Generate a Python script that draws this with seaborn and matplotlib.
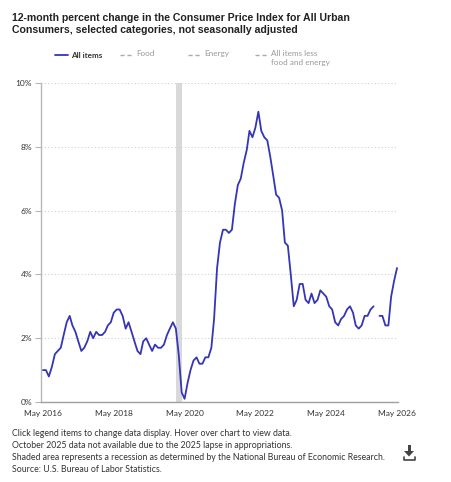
import numpy as np
import pandas as pd
import matplotlib
matplotlib.use("Agg")
import matplotlib.pyplot as plt
import matplotlib.dates as mdates
import seaborn as sns
from matplotlib.lines import Line2D
from matplotlib.patches import Polygon, Rectangle

sns.set_theme(style="white")
plt.rcParams["font.family"] = ["Lato", "DejaVu Sans"]

# ---------------- data ----------------
first_month = "2016-05-01"
last_month = "2026-05-01"
all_items = [
    # 2016 (May-Dec)
    1.0, 1.0, 0.8, 1.1, 1.5, 1.6, 1.7, 2.1,
    # 2017
    2.5, 2.7, 2.4, 2.2, 1.9, 1.6, 1.7, 1.9, 2.2, 2.0, 2.2, 2.1,
    # 2018
    2.1, 2.2, 2.4, 2.5, 2.8, 2.9, 2.9, 2.7, 2.3, 2.5, 2.2, 1.9,
    # 2019
    1.6, 1.5, 1.9, 2.0, 1.8, 1.6, 1.8, 1.7, 1.7, 1.8, 2.1, 2.3,
    # 2020
    2.5, 2.3, 1.5, 0.3, 0.1, 0.6, 1.0, 1.3, 1.4, 1.2, 1.2, 1.4,
    # 2021
    1.4, 1.7, 2.6, 4.2, 5.0, 5.4, 5.4, 5.3, 5.4, 6.2, 6.8, 7.0,
    # 2022
    7.5, 7.9, 8.5, 8.3, 8.6, 9.1, 8.5, 8.3, 8.2, 7.7, 7.1, 6.5,
    # 2023
    6.4, 6.0, 5.0, 4.9, 4.0, 3.0, 3.2, 3.7, 3.7, 3.2, 3.1, 3.4,
    # 2024
    3.1, 3.2, 3.5, 3.4, 3.3, 3.0, 2.9, 2.5, 2.4, 2.6, 2.7, 2.9,
    # 2025 (Oct missing)
    3.0, 2.8, 2.4, 2.3, 2.4, 2.7, 2.7, 2.9, 3.0, np.nan, 2.7, 2.7,
    # 2026 (Jan-May)
    2.4, 2.4, 3.3, 3.8, 4.2,
]
recession_start = "2020-02-01"
recession_end = "2020-04-01"
y_ticks = [0, 2, 4, 6, 8, 10]
x_tick_years = [2016, 2018, 2020, 2022, 2024, 2026]
legend_labels = ["All items", "Food", "Energy", "All items less\nfood and energy"]

title = ("12-month percent change in the Consumer Price Index for All Urban\n"
         "Consumers, selected categories, not seasonally adjusted")
footer = ("Click legend items to change data display. Hover over chart to view data.\n"
          "October 2025 data not available due to the 2025 lapse in appropriations.\n"
          "Shaded area represents a recession as determined by the National Bureau of Economic Research.\n"
          "Source: U.S. Bureau of Labor Statistics.")

months = pd.date_range(first_month, last_month, freq="MS")
df = pd.DataFrame({"date": months, "value": all_items})
df["segment"] = df["value"].isna().cumsum()
df = df.dropna()

# ---------------- figure ----------------
W, H = 451, 482
fig = plt.figure(figsize=(W / 100, H / 100), dpi=100)
fig.patch.set_facecolor("white")


def fx(x):
    return x / W


def fy(y):
    return 1 - y / H


ax = fig.add_axes([fx(41), fy(402), (398 - 41) / W, (402 - 83) / H])
ax.set_facecolor("white")

ax.axvspan(pd.Timestamp(recession_start), pd.Timestamp(recession_end),
           color="#d9d9d9", lw=0, zorder=0)

line_color = "#3535b5"
sns.lineplot(data=df, x="date", y="value", units="segment", estimator=None,
             color=line_color, lw=1.3, ax=ax, legend=False, zorder=3)

ax.set_xlim(pd.Timestamp("2016-04-11"), pd.Timestamp("2026-05-11"))
ax.set_ylim(0, 10)
ax.set_yticks(y_ticks)
ax.set_yticklabels([f"{t}%" for t in y_ticks])
ax.set_xticks([pd.Timestamp(f"{y}-05-01") for y in x_tick_years])
ax.xaxis.set_major_formatter(mdates.DateFormatter("%b %Y"))
ax.set_xlabel("")
ax.set_ylabel("")

ax.yaxis.grid(True, linestyle=(0, (1, 2)), color="#d0d0d0", lw=0.8)
ax.xaxis.grid(False)
for s in ["top", "right"]:
    ax.spines[s].set_visible(False)
ax.spines["left"].set_color("#b8b8b8")
ax.spines["left"].set_linewidth(1.0)
ax.spines["bottom"].set_color("#a0a0a0")
ax.spines["bottom"].set_linewidth(1.0)

ax.tick_params(axis="y", length=4.5, width=0.8, color="#b8b8b8",
               labelsize=6, labelcolor="#333333", pad=2, left=True)
ax.tick_params(axis="x", length=0, labelsize=6, labelcolor="#333333", pad=6)

# ---------------- title ----------------
fig.text(fx(12), fy(13), title, fontsize=7.55, fontweight="bold",
         family=["Liberation Sans", "DejaVu Sans"], color="#222222",
         va="top", ha="left", linespacing=1.25)

# ---------------- legend ----------------
leg_x = [55, 120, 188, 255]
leg_y = 55
for i, lab in enumerate(legend_labels):
    x0 = leg_x[i]
    if i == 0:
        h = Line2D([fx(x0), fx(x0 + 13)], [fy(leg_y), fy(leg_y)],
                   transform=fig.transFigure, color=line_color, lw=1.3)
        fig.text(fx(x0 + 16), fy(leg_y), lab, fontsize=5.9, fontweight="bold",
                 color="#333333", va="center", ha="left")
    else:
        h = Line2D([fx(x0), fx(x0 + 13)], [fy(leg_y), fy(leg_y)],
                   transform=fig.transFigure, color="#aaaaaa", lw=1.0,
                   linestyle=(0, (3, 2)))
        fig.text(fx(x0 + 16), fy(leg_y - 5), lab, fontsize=5.9,
                 color="#999999", va="top", ha="left", linespacing=1.35)
    fig.add_artist(h)

# ---------------- footer ----------------
fig.text(fx(12), fy(428.5), footer, fontsize=6.35, color="#333333",
         va="top", ha="left", linespacing=1.45)

# download icon
icon_c = "#444444"
fig.add_artist(Rectangle((fx(407.8), fy(452)), 3 / W, 7 / H,
                         transform=fig.transFigure, color=icon_c, lw=0))
fig.add_artist(Polygon([(fx(404), fy(451)), (fx(414), fy(451)), (fx(409), fy(456.5))],
                       closed=True, transform=fig.transFigure, color=icon_c, lw=0))
fig.add_artist(Line2D([fx(403.5), fx(403.5), fx(414.5), fx(414.5)],
                      [fy(457), fy(460), fy(460), fy(457)],
                      transform=fig.transFigure, color=icon_c, lw=1.2))

fig.savefig("out.png", dpi=100, facecolor="white")
